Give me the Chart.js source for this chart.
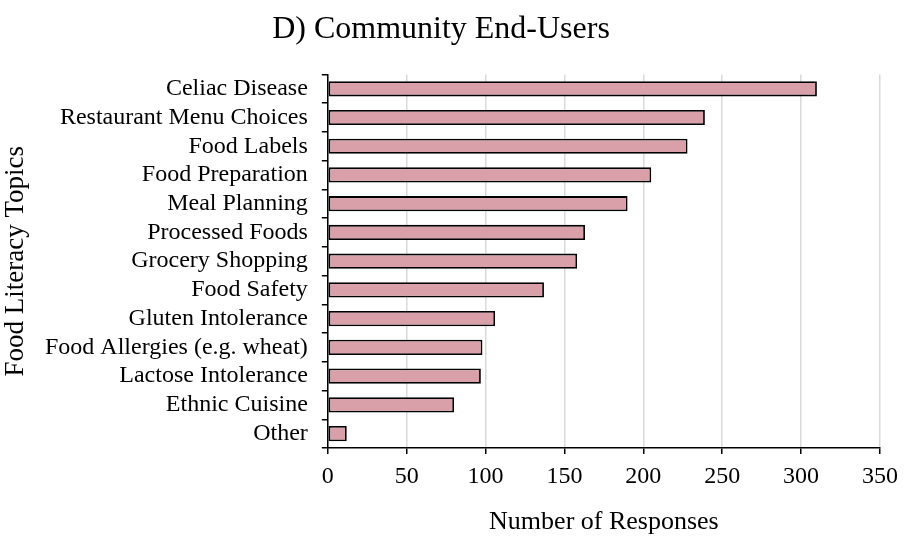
<!DOCTYPE html>
<html>
<head>
<meta charset="utf-8">
<script src="https://cdn.jsdelivr.net/npm/chart.js@4.4.0/dist/chart.umd.min.js"></script>
<style>
  html, body { margin: 0; padding: 0; background: #fff; }
  #wrap { width: 923px; height: 538px; }
</style>
</head>
<body>
<div id="wrap"><canvas id="chart" width="923" height="538"></canvas></div>
<script>
// categories top to bottom, responses
const topics = ['Celiac Disease', 'Restaurant Menu Choices', 'Food Labels', 'Food Preparation',
  'Meal Planning', 'Processed Foods', 'Grocery Shopping', 'Food Safety', 'Gluten Intolerance',
  'Food Allergies (e.g. wheat)', 'Lactose Intolerance', 'Ethnic Cuisine', 'Other'];
const responses = [310, 239, 228, 205, 190, 163, 158, 137, 106, 98, 97, 80, 12];
const xTicks = [0, 50, 100, 150, 200, 250, 300, 350];

const serif = "'Liberation Serif', 'Times New Roman', serif";

new Chart(document.getElementById('chart').getContext('2d'), {
  type: 'bar',
  data: {
    labels: topics,
    datasets: [{
      data: responses,
      backgroundColor: '#d9a0aa',
      borderColor: '#000',
      borderWidth: 1.8,
      borderSkipped: false,
      barPercentage: 0.53,
      categoryPercentage: 1
    }]
  },
  options: {
    indexAxis: 'y',
    responsive: false,
    animation: false,
    layout: { padding: { top: 10, right: 43, bottom: 0, left: 2 } },
    plugins: {
      legend: { display: false },
      tooltip: { enabled: false },
      title: {
        display: true,
        text: 'D) Community End-Users',
        color: '#000',
        font: { family: serif, size: 32, weight: 'normal' },
        padding: { top: 0, bottom: 26 }
      }
    },
    scales: {
      x: {
        min: 0,
        max: 350,
        afterBuildTicks: axis => { axis.ticks = xTicks.map(v => ({ value: v })); },
        ticks: { color: '#000', font: { family: serif, size: 24 }, padding: 8, maxRotation: 0 },
        grid: { color: '#d9d9d9', lineWidth: 1.5, tickColor: '#000', tickLength: 6 },
        border: { color: '#000', width: 1.5 },
        title: {
          display: true,
          text: 'Number of Responses',
          color: '#000',
          font: { family: serif, size: 26 },
          padding: { top: 8, bottom: 0 }
        }
      },
      y: {
        offset: true,
        ticks: { color: '#000', font: { family: serif, size: 24 }, padding: 14, autoSkip: false },
        grid: { offset: true, drawOnChartArea: false, color: '#000', tickLength: 6, lineWidth: 1.5 },
        border: { color: '#000', width: 1.5 },
        title: {
          display: true,
          text: 'Food Literacy Topics',
          color: '#000',
          font: { family: serif, size: 27, lineHeight: 1 },
          padding: { top: 0, bottom: 2 }
        }
      }
    }
  }
});
</script>
</body>
</html>
